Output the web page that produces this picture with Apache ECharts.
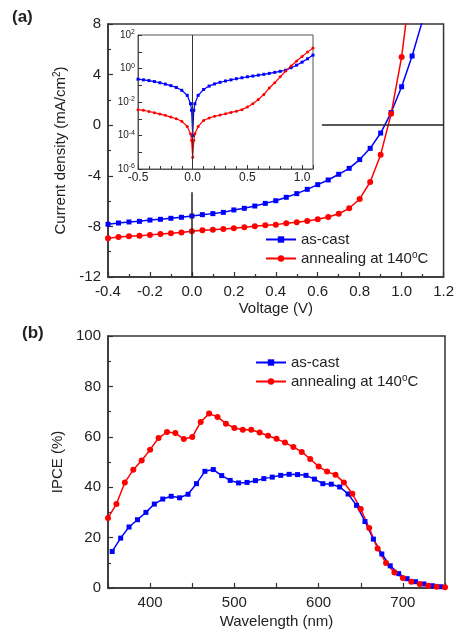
<!DOCTYPE html>
<html>
<head>
<meta charset="utf-8">
<script src="https://cdn.jsdelivr.net/npm/echarts@6/dist/echarts.min.js"></script>
<style>
  html, body { margin: 0; padding: 0; background: #fff; }
  #chart { width: 457px; height: 633px; }
</style>
</head>
<body>
<div id="chart"></div>
<script>
// series names
const nameCast = 'as-cast'
const nameAnneal = 'annealing at 140oC'

// (a) J-V under light, V in volts, J in mA/cm2
const voltage = [
  -0.4, -0.35, -0.3, -0.25, -0.2, -0.15, -0.1, -0.05, 0, 0.05, 0.1, 0.15, 0.2, 0.25, 0.3, 0.35,
  0.4, 0.45, 0.5, 0.55, 0.6, 0.65, 0.7, 0.75, 0.8, 0.85, 0.9, 0.95, 1.0, 1.05, 1.1
]
const castJ = [
  -7.83, -7.73, -7.65, -7.6, -7.5, -7.44, -7.36, -7.28, -7.18, -7.07, -6.99, -6.89, -6.7, -6.57, -6.39, -6.18,
  -5.97, -5.7, -5.41, -5.07, -4.7, -4.33, -3.88, -3.41, -2.72, -1.83, -0.62, 1.0, 3.04, 5.47, 8.3
]
const annealJ = [
  -8.94, -8.84, -8.78, -8.73, -8.67, -8.6, -8.55, -8.49, -8.39, -8.31, -8.26, -8.2, -8.15, -8.07, -7.99, -7.91,
  -7.86, -7.76, -7.68, -7.57, -7.44, -7.26, -7.0, -6.57, -5.83, -4.49, -2.33, 0.9, 5.4, 12
]
// guide lines drawn in panel (a): [v, j] pairs
const guideVertical = [[0, -12], [0, -5.3]]
const guideHorizontal = [[0.62, 0], [1.2, 0]]

// (a) inset, dark J-V on log scale
const darkV = [
  -0.5, -0.45, -0.4, -0.35, -0.3, -0.25, -0.2, -0.15, -0.1, -0.05,
  -0.02, -0.01, 0, 0.01, 0.02,
  0.05, 0.1, 0.15, 0.2, 0.25, 0.3, 0.35, 0.4, 0.45, 0.5, 0.55, 0.6, 0.65, 0.7, 0.75, 0.8, 0.85,
  0.9, 0.95, 1.0, 1.05, 1.1
]
const darkCast = [
  0.23, 0.21, 0.19, 0.166, 0.141, 0.117, 0.095, 0.074, 0.05, 0.025,
  7.9e-3, 3.2e-3, 1.0e-4, 3.2e-3, 7.9e-3,
  0.025, 0.056, 0.089, 0.12, 0.15, 0.18, 0.21, 0.245, 0.28, 0.32, 0.355, 0.40, 0.45, 0.51, 0.59, 0.68, 0.79,
  1.12, 1.58, 2.4, 3.8, 6.3
]
const darkAnneal = [
  3.5e-3, 3.2e-3, 2.7e-3, 2.3e-3, 1.9e-3, 1.6e-3, 1.26e-3, 1.0e-3, 7.1e-4, 3.5e-4,
  1.26e-4, 5.0e-5, 5.0e-6, 5.0e-5, 1.26e-4,
  3.5e-4, 7.9e-4, 1.12e-3, 1.41e-3, 1.66e-3, 2.0e-3, 2.4e-3, 2.8e-3, 3.5e-3, 5.0e-3, 7.9e-3, 1.41e-2, 2.8e-2,
  6.8e-2, 0.141, 0.32, 0.71, 1.41, 2.8, 5.2, 9.5, 16.6
]

// (b) IPCE spectra
const castWl = [
  355, 365, 375, 385, 395, 405, 415, 425, 435, 445, 455, 465, 475, 485, 495, 505, 515, 525, 535, 545,
  555, 565, 575, 585, 595, 605, 615, 625, 635, 645, 655, 665, 675, 685, 695, 705, 715, 725, 735, 745
]
const castIpce = [
  14.5, 19.8, 24.2, 27.1, 30.0, 33.3, 35.3, 36.4, 35.8, 37.2, 41.4, 46.3, 47.0, 44.6, 42.7, 41.7, 41.9, 42.6, 43.4, 44.0,
  44.7, 45.1, 45.0, 44.7, 43.2, 41.4, 41.2, 40.1, 37.3, 32.8, 26.4, 19.4, 13.5, 8.8, 5.7, 3.7, 2.5, 1.6, 0.9, 0.5
]
const annealWl = [
  350, 360, 370, 380, 390, 400, 410, 420, 430, 440, 450, 460, 470, 480, 490, 500, 510, 520, 530, 540,
  550, 560, 570, 580, 590, 600, 610, 620, 630, 640, 650, 660, 670, 680, 690, 700, 710, 720, 730, 740, 750
]
const annealIpce = [
  27.8, 33.3, 41.9, 46.9, 50.6, 54.9, 59.5, 61.9, 61.5, 59.1, 59.9, 65.9, 69.2, 67.9, 65.2, 63.5, 62.8, 62.8, 61.7, 60.4,
  59.2, 57.7, 56.0, 54.0, 51.2, 48.2, 46.2, 44.9, 41.9, 37.4, 31.3, 23.8, 15.7, 9.9, 6.2, 4.0, 2.5, 1.6, 0.9, 0.5, 0.3
]

const pairs = (xs, ys) => ys.map((y, i) => [xs[i], y])

const FONT = 'Liberation Sans, Arial, sans-serif'
const INK = '#222'
const BLUE = '#0000ff'
const RED = '#ff0000'
const sup = { fontSize: 10, fontFamily: FONT, color: INK, padding: [0, 0, 7, 0] }

function frameAxis(extra) {
  return Object.assign({
    type: 'value',
    axisLine: { show: true, onZero: false, lineStyle: { color: '#333', width: 1.5 } },
    axisTick: { show: true, inside: true, length: 5, lineStyle: { color: '#333', width: 1.2 } },
    minorTick: { show: true, splitNumber: 2, length: 3, lineStyle: { color: '#333', width: 1.2 } },
    splitLine: { show: false },
    axisLabel: { fontSize: 15, fontFamily: FONT, color: INK, margin: 7 },
    nameLocation: 'middle',
    nameTextStyle: { fontSize: 15, fontFamily: FONT, color: INK, rich: { sup: sup } }
  }, extra)
}

function insetAxis(extra) {
  return Object.assign({
    axisLine: { show: true, onZero: false, lineStyle: { color: '#555', width: 1 } },
    axisTick: { show: true, inside: true, length: 4, lineStyle: { color: '#333' } },
    splitLine: { show: false },
    axisLabel: { fontSize: 12, fontFamily: FONT, color: INK, margin: 3 }
  }, extra)
}

const legendBase = {
  orient: 'vertical',
  padding: 0,
  itemWidth: 30,
  itemHeight: 8,
  itemGap: 3,
  data: [nameCast, nameAnneal],
  formatter: name => name.replace('140oC', '140{sup|o}C'),
  textStyle: { fontSize: 15, fontFamily: FONT, color: INK, rich: { sup: { fontSize: 10, fontFamily: FONT, color: INK, padding: [0, 0, 7, 0] } } }
}

const chart = echarts.init(document.getElementById('chart'))
chart.setOption({
  animation: false,
  backgroundColor: '#fff',
  textStyle: { fontFamily: FONT },
  graphic: [
    { type: 'text', left: 12, top: 9, style: { text: '(a)', font: 'bold 17px ' + FONT, fill: INK } },
    { type: 'text', left: 22, top: 325, style: { text: '(b)', font: 'bold 17px ' + FONT, fill: INK } }
  ],
  legend: [
    Object.assign({ left: 265, top: 232 }, legendBase),
    Object.assign({ left: 255, top: 355 }, legendBase)
  ],
  grid: [
    { left: 108, top: 24, width: 337, height: 253, show: true, borderColor: '#333', borderWidth: 1.5 },
    { left: 138, top: 35, width: 175, height: 134, show: true, borderColor: '#555', borderWidth: 1, backgroundColor: '#fff' },
    { left: 108, top: 336, width: 337, height: 252, show: true, borderColor: '#333', borderWidth: 1.5 }
  ],
  xAxis: [
    frameAxis({
      gridIndex: 0, min: -0.4, max: 1.2, interval: 0.2,
      name: 'Voltage (V)', nameGap: 24,
      axisLabel: { fontSize: 15, fontFamily: FONT, color: INK, margin: 7, formatter: v => v.toFixed(1) }
    }),
    insetAxis({
      type: 'value', gridIndex: 1, min: -0.5, max: 1.1, interval: 0.5,
      minorTick: { show: true, splitNumber: 5, length: 3, lineStyle: { color: '#333' } },
      axisLabel: { fontSize: 12, fontFamily: FONT, color: INK, margin: 3, showMaxLabel: false, formatter: v => v.toFixed(1) }
    }),
    frameAxis({
      gridIndex: 2, min: 350, max: 750, interval: 50,
      name: 'Wavelength (nm)', nameGap: 26,
      minorTick: { show: false },
      axisLabel: { fontSize: 15, fontFamily: FONT, color: INK, margin: 7, formatter: v => (v % 100 === 0 ? String(v) : '') }
    })
  ],
  yAxis: [
    frameAxis({
      gridIndex: 0, min: -12, max: 8, interval: 4,
      name: 'Current density (mA/cm{sup|2})', nameGap: 32
    }),
    insetAxis({
      type: 'log', logBase: 10, gridIndex: 1, min: 1e-6, max: 1e2, splitNumber: 8,
      axisLabel: {
        fontSize: 10, fontFamily: FONT, color: INK, margin: 3,
        formatter: v => {
          const p = Math.round(Math.log10(v))
          return p % 2 === 0 ? '10{sup|' + p + '}' : ''
        },
        rich: { sup: { fontSize: 7, fontFamily: FONT, color: INK, padding: [0, 0, 5, 0] } }
      }
    }),
    frameAxis({
      gridIndex: 2, min: 0, max: 100, interval: 20,
      name: 'IPCE (%)', nameGap: 34
    })
  ],
  series: [
    {
      name: nameCast, type: 'line', xAxisIndex: 0, yAxisIndex: 0,
      data: pairs(voltage, castJ),
      symbol: 'rect', symbolSize: 5, color: BLUE, lineStyle: { width: 1.5 },
      markLine: {
        silent: true, symbol: ['none', 'none'], label: { show: false },
        lineStyle: { color: '#222', width: 1.5, type: 'solid' },
        data: [
          guideVertical.map(c => ({ coord: c })),
          guideHorizontal.map(c => ({ coord: c }))
        ]
      }
    },
    {
      name: nameAnneal, type: 'line', xAxisIndex: 0, yAxisIndex: 0,
      data: pairs(voltage, annealJ),
      symbol: 'circle', symbolSize: 6, color: RED, lineStyle: { width: 1.5 }
    },
    {
      name: nameCast, type: 'line', xAxisIndex: 1, yAxisIndex: 1,
      data: pairs(darkV, darkCast),
      symbol: 'rect', symbolSize: 3, color: BLUE, lineStyle: { width: 1.2 },
      markLine: {
        silent: true, symbol: ['none', 'none'], label: { show: false },
        lineStyle: { color: '#333', width: 1, type: 'solid' },
        data: [{ xAxis: 0 }]
      }
    },
    {
      name: nameAnneal, type: 'line', xAxisIndex: 1, yAxisIndex: 1,
      data: pairs(darkV, darkAnneal),
      symbol: 'circle', symbolSize: 3, color: RED, lineStyle: { width: 1.2 }
    },
    {
      name: nameCast, type: 'line', xAxisIndex: 2, yAxisIndex: 2,
      data: pairs(castWl, castIpce),
      symbol: 'rect', symbolSize: 5, color: BLUE, lineStyle: { width: 1.5 }
    },
    {
      name: nameAnneal, type: 'line', xAxisIndex: 2, yAxisIndex: 2,
      data: pairs(annealWl, annealIpce),
      symbol: 'circle', symbolSize: 6, color: RED, lineStyle: { width: 1.5 }
    }
  ]
})
</script>
</body>
</html>
